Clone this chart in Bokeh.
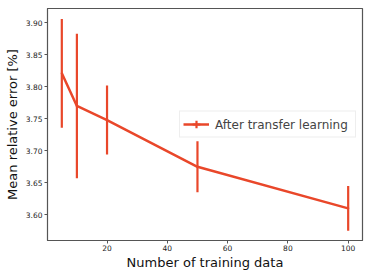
from bokeh.plotting import figure
from bokeh.embed import file_html
from bokeh.resources import INLINE
from bokeh.models import Legend, LegendItem, Range1d, FixedTicker, PrintfTickFormatter, ColumnDataSource

n_train = [5, 10, 20, 50, 100]
mean_err = [3.821, 3.770, 3.748, 3.675, 3.610]
std_err = [0.085, 0.113, 0.054, 0.040, 0.035]
x_ticks = [20, 40, 60, 80, 100]
y_ticks = [3.60, 3.65, 3.70, 3.75, 3.80, 3.85, 3.90]
series_label = "After transfer learning"

COLOR = "#E9472A"
FONT = "DejaVu Sans"

lo = [m - s for m, s in zip(mean_err, std_err)]
hi = [m + s for m, s in zip(mean_err, std_err)]
src = ColumnDataSource(dict(x=n_train, y=mean_err, lo=lo, hi=hi))

p = figure(frame_width=315, frame_height=232, output_backend="svg", toolbar_location=None,
           x_range=Range1d(0.25, 104.75), y_range=Range1d(3.5598, 3.9223),
           min_border_left=47, min_border_right=8, min_border_top=8, min_border_bottom=35)

# tiny cross markers (hidden under the line) that give the legend its error-bar cross
cross = p.scatter("x", "y", source=src, marker="cross", size=1, line_color=COLOR, line_width=2.2)
line = p.line("x", "y", source=src, line_color=COLOR, line_width=2.5)
seg = p.segment(x0="x", y0="lo", x1="x", y1="hi", source=src, line_color=COLOR, line_width=2.2)

p.grid.visible = False
p.outline_line_color = "#555555"
p.outline_line_width = 1.2

p.xaxis.ticker = FixedTicker(ticks=x_ticks)
p.yaxis.ticker = FixedTicker(ticks=y_ticks)
p.yaxis.formatter = PrintfTickFormatter(format="%.2f")
for ax in (p.xaxis, p.yaxis):
    ax.minor_tick_line_color = None
    ax.major_tick_out = 3
    ax.major_tick_in = 0
    ax.axis_line_color = "#555555"
    ax.major_tick_line_color = "#555555"
    ax.major_label_text_font = FONT
    ax.major_label_text_font_size = "7.5px"
    ax.major_label_text_color = "#222222"
    ax.axis_label_text_font = FONT
    ax.axis_label_text_font_size = "13px"
    ax.axis_label_text_font_style = "normal"
    ax.axis_label_text_color = "#111111"

p.xaxis.axis_label = "Number of training data"
p.yaxis.axis_label = "Mean relative error [%]"
p.xaxis.major_label_standoff = 1
p.yaxis.major_label_standoff = 2
p.xaxis.axis_label_standoff = 1
p.yaxis.axis_label_standoff = 3

legend = Legend(items=[LegendItem(label=series_label, renderers=[line, cross])],
                location="center_right", label_text_font=FONT, label_text_font_size="12px",
                glyph_width=26, glyph_height=19, padding=3, margin=6, spacing=0,
                label_standoff=6, label_width=137, label_height=16,
                border_line_color="#dddddd", border_line_width=1,
                background_fill_alpha=0.8)
p.add_layout(legend)

open("out.html", "w").write(file_html(p, INLINE))
